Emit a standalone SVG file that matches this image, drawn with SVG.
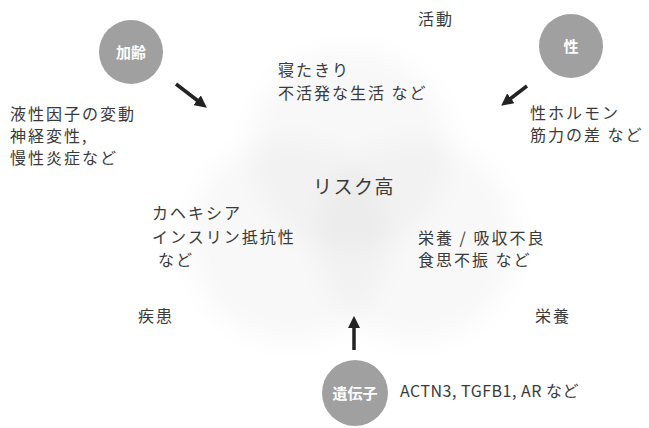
<svg xmlns="http://www.w3.org/2000/svg" width="649" height="428" viewBox="0 0 649 428">
<style>
.t{font-family:"Noto Sans CJK JP","Noto Sans",sans-serif;font-size:16px;letter-spacing:2px;fill:#3a3a3a}
.e{letter-spacing:0.5px}
.c{fill:#a0a0a0}
.cl{font-family:"Noto Sans CJK JP",sans-serif;font-size:15px;fill:#fff;text-anchor:middle;font-weight:bold}
.v{fill:#000;fill-opacity:0.027}
.a{stroke:#222;stroke-width:3.5;fill:none;marker-end:url(#ah)}
</style>
<defs>
<marker id="ah" viewBox="0 0 10 10" refX="5" refY="5" markerWidth="3.5" markerHeight="3.5" orient="auto">
<path d="M0,0 L10,5 L0,10 z" fill="#222"/>
</marker>
<filter id="blur" x="-30%" y="-30%" width="160%" height="160%"><feGaussianBlur stdDeviation="12"/></filter>
</defs>
<rect width="649" height="428" fill="#fff"/>
<g id="venn" filter="url(#blur)">
<circle class="v" cx="350" cy="150" r="100"/>
<circle class="v" cx="290" cy="240" r="100"/>
<circle class="v" cx="415" cy="240" r="100"/>
</g>
<g id="katsudo"><text class="t" x="418" y="25">活動</text>
<text class="t" x="278" y="76">寝たきり</text>
<text class="t" x="278" y="99">不活発な生活 など</text></g>
<g id="shikkan"><text class="t" x="138" y="322">疾患</text>
<text class="t" x="152" y="219">カヘキシア</text>
<text class="t" x="152" y="243">インスリン抵抗性</text>
<text class="t" x="158" y="266">など</text></g>
<g id="eiyo"><text class="t" x="535" y="322">栄養</text>
<text class="t" x="418" y="244">栄養 / 吸収不良</text>
<text class="t" x="418" y="266">食思不振 など</text></g>
<g id="risk"><text class="t" x="313" y="194" style="font-size:19px;letter-spacing:1.5px">リスク高</text></g>
<g id="karei"><circle class="c" cx="131" cy="52" r="32"/><text class="cl" x="131" y="58">加齢</text>
<text class="t" x="10" y="120">液性因子の変動</text>
<text class="t" x="10" y="142">神経変性,</text>
<text class="t" x="10" y="164">慢性炎症など</text></g>
<g id="sei"><circle class="c" cx="571" cy="46" r="32"/><text class="cl" x="571" y="52">性</text>
<text class="t" x="530" y="119">性ホルモン</text>
<text class="t" x="530" y="141">筋力の差 など</text></g>
<g id="idenshi"><circle class="c" cx="355" cy="393" r="33"/><text class="cl" x="355" y="399">遺伝子</text>
<text class="t e" x="400" y="397">ACTN3, TGFB1, AR など</text></g>
<g id="connectors">
<line class="a" x1="176" y1="84" x2="202" y2="104"/>
<line class="a" x1="527" y1="86" x2="506" y2="102"/>
<line class="a" x1="354" y1="350" x2="354" y2="322"/>
</g>
</svg>
